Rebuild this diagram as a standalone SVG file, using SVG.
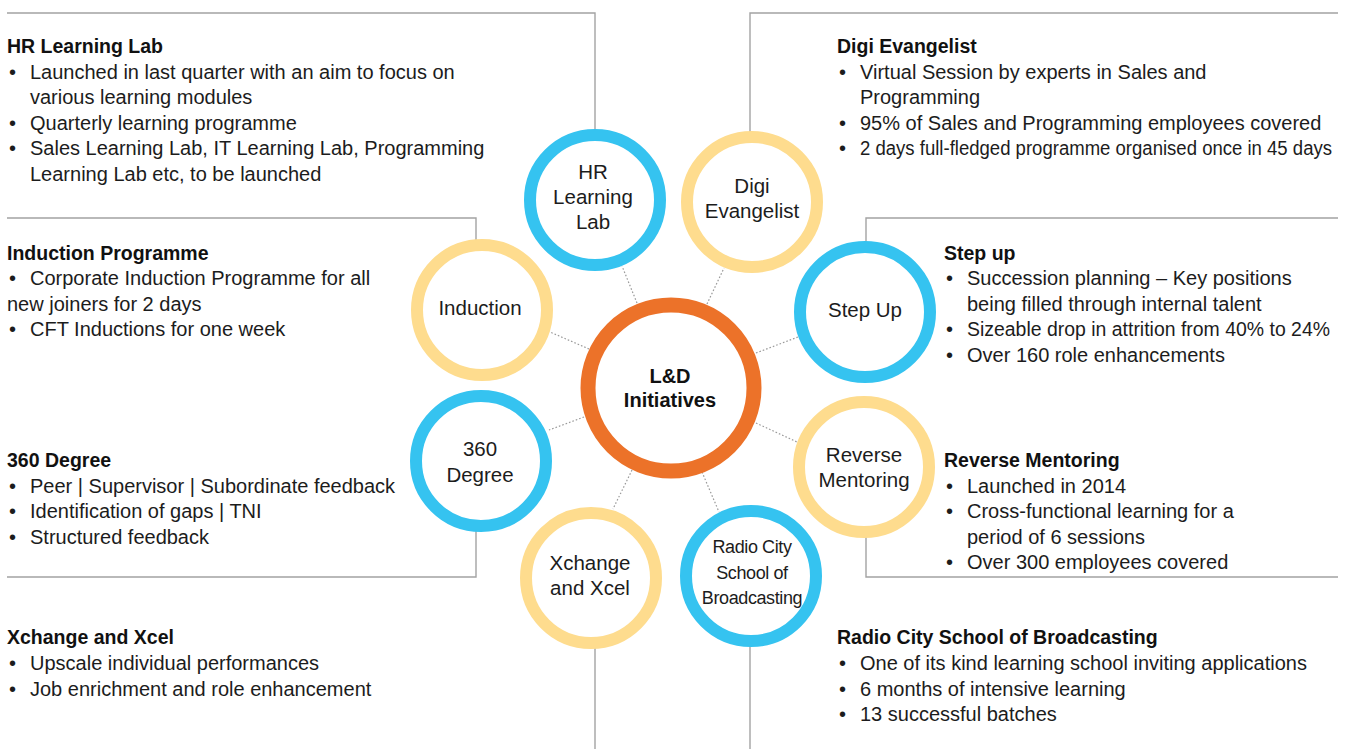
<svg xmlns="http://www.w3.org/2000/svg" width="1353" height="749" viewBox="0 0 1353 749">
<style>
.bg{fill:#ffffff}
.frame{fill:none;stroke:#a3a3a3;stroke-width:1.4}
.dot{fill:none;stroke:#9a9a9a;stroke-width:1.2;stroke-dasharray:1.6 2}
.blue{fill:#ffffff;stroke:#35c3f0;stroke-width:12}
.yellow{fill:#ffffff;stroke:#fedc8e;stroke-width:12}
.orange{fill:#ffffff;stroke:#ec7229;stroke-width:15}
.t{font-family:"Liberation Sans",Arial,sans-serif;font-size:20px;fill:#1c1c1c}
.h{font-family:"Liberation Sans",Arial,sans-serif;font-size:19.5px;font-weight:bold;fill:#111}
.n{font-family:"Liberation Sans",Arial,sans-serif;font-size:20.5px;fill:#1c1c1c;text-anchor:middle}
.nc{font-family:"Liberation Sans",Arial,sans-serif;font-size:18px;fill:#1c1c1c;text-anchor:middle;letter-spacing:-0.4px}
.c{font-family:"Liberation Sans",Arial,sans-serif;font-size:20px;font-weight:bold;fill:#111;text-anchor:middle}
</style>
<rect class="bg" x="0" y="0" width="1353" height="749"/>

<g id="connectors">
  <polyline class="frame" points="7,13 595,13 595,200"/>
  <polyline class="frame" points="1338,13 750,13 750,202"/>
  <polyline class="frame" points="7,218 476,218 476,310"/>
  <polyline class="frame" points="1338,218 866,218 866,312"/>
  <polyline class="frame" points="7,577 476,577 476,461"/>
  <polyline class="frame" points="1338,577 866,577 866,467"/>
  <line class="frame" x1="595" y1="578" x2="595" y2="749"/>
  <line class="frame" x1="750" y1="576" x2="750" y2="749"/>
  <line class="dot" x1="637" y1="303" x2="622" y2="266"/>
  <line class="dot" x1="707" y1="304" x2="724" y2="268"/>
  <line class="dot" x1="589" y1="349" x2="550" y2="332"/>
  <line class="dot" x1="756" y1="353" x2="798" y2="337"/>
  <line class="dot" x1="584" y1="417" x2="549" y2="430"/>
  <line class="dot" x1="756" y1="423" x2="797" y2="442"/>
  <line class="dot" x1="632" y1="470" x2="613" y2="509"/>
  <line class="dot" x1="702" y1="472" x2="719" y2="512"/>
</g>

<g id="center">
  <circle class="orange" cx="671" cy="388" r="83"/>
  <text class="c" x="670" y="383">L&amp;D</text>
  <text class="c" x="670" y="407">Initiatives</text>
</g>

<g id="node-hr">
  <circle class="blue" cx="595" cy="200" r="65"/>
  <text class="n" x="593" y="179">HR</text>
  <text class="n" x="593" y="204">Learning</text>
  <text class="n" x="593" y="229">Lab</text>
</g>
<g id="node-digi">
  <circle class="yellow" cx="752" cy="202" r="65"/>
  <text class="n" x="752" y="193">Digi</text>
  <text class="n" x="752" y="218">Evangelist</text>
</g>
<g id="node-induction">
  <circle class="yellow" cx="482" cy="310" r="65"/>
  <text class="n" x="480" y="315">Induction</text>
</g>
<g id="node-stepup">
  <circle class="blue" cx="865" cy="312" r="65"/>
  <text class="n" x="865" y="317">Step Up</text>
</g>
<g id="node-360">
  <circle class="blue" cx="481" cy="461" r="65"/>
  <text class="n" x="480" y="456">360</text>
  <text class="n" x="480" y="482">Degree</text>
</g>
<g id="node-reverse">
  <circle class="yellow" cx="864" cy="467" r="65"/>
  <text class="n" x="864" y="462">Reverse</text>
  <text class="n" x="864" y="487">Mentoring</text>
</g>
<g id="node-xchange">
  <circle class="yellow" cx="591" cy="578" r="65"/>
  <text class="n" x="590" y="570">Xchange</text>
  <text class="n" x="590" y="595">and Xcel</text>
</g>
<g id="node-radio">
  <circle class="blue" cx="751" cy="576" r="65"/>
  <text class="nc" x="752" y="553">Radio City</text>
  <text class="nc" x="752" y="579">School of</text>
  <text class="nc" x="752" y="604">Broadcasting</text>
</g>

<g id="desc-hr">
  <text class="h" x="7" y="53">HR Learning Lab</text>
  <text class="t" x="9" y="79">•</text><text class="t" x="30" y="79">Launched in last quarter with an aim to focus on</text>
  <text class="t" x="30" y="104">various learning modules</text>
  <text class="t" x="9" y="130">•</text><text class="t" x="30" y="130">Quarterly learning programme</text>
  <text class="t" x="9" y="155">•</text><text class="t" x="30" y="155">Sales Learning Lab, IT Learning Lab, Programming</text>
  <text class="t" x="30" y="181">Learning Lab etc, to be launched</text>
</g>
<g id="desc-induction">
  <text class="h" x="7" y="260">Induction Programme</text>
  <text class="t" x="9" y="285">•</text><text class="t" x="30" y="285">Corporate Induction Programme for all</text>
  <text class="t" x="7" y="311">new joiners for 2 days</text>
  <text class="t" x="9" y="336">•</text><text class="t" x="30" y="336">CFT Inductions for one week</text>
</g>
<g id="desc-360">
  <text class="h" x="7" y="467">360 Degree</text>
  <text class="t" x="9" y="493">•</text><text class="t" x="30" y="493">Peer | Supervisor | Subordinate feedback</text>
  <text class="t" x="9" y="518">•</text><text class="t" x="30" y="518">Identification of gaps | TNI</text>
  <text class="t" x="9" y="544">•</text><text class="t" x="30" y="544">Structured feedback</text>
</g>
<g id="desc-xchange">
  <text class="h" x="7" y="644">Xchange and Xcel</text>
  <text class="t" x="9" y="670">•</text><text class="t" x="30" y="670">Upscale individual performances</text>
  <text class="t" x="9" y="696">•</text><text class="t" x="30" y="696">Job enrichment and role enhancement</text>
</g>
<g id="desc-digi">
  <text class="h" x="837" y="53">Digi Evangelist</text>
  <text class="t" x="839" y="79">•</text><text class="t" x="860" y="79">Virtual Session by experts in Sales and</text>
  <text class="t" x="860" y="104">Programming</text>
  <text class="t" x="839" y="130">•</text><text class="t" x="860" y="130">95% of Sales and Programming employees covered</text>
  <text class="t" x="839" y="155">•</text><text class="t" x="860" y="155" textLength="472" lengthAdjust="spacingAndGlyphs">2 days full-fledged programme organised once in 45 days</text>
</g>
<g id="desc-stepup">
  <text class="h" x="944" y="260">Step up</text>
  <text class="t" x="946" y="285">•</text><text class="t" x="967" y="285">Succession planning – Key positions</text>
  <text class="t" x="967" y="311">being filled through internal talent</text>
  <text class="t" x="946" y="336">•</text><text class="t" x="967" y="336" textLength="363" lengthAdjust="spacingAndGlyphs">Sizeable drop in attrition from 40% to 24%</text>
  <text class="t" x="946" y="362">•</text><text class="t" x="967" y="362">Over 160 role enhancements</text>
</g>
<g id="desc-reverse">
  <text class="h" x="944" y="467">Reverse Mentoring</text>
  <text class="t" x="946" y="493">•</text><text class="t" x="967" y="493">Launched in 2014</text>
  <text class="t" x="946" y="518">•</text><text class="t" x="967" y="518">Cross-functional learning for a</text>
  <text class="t" x="967" y="544">period of 6 sessions</text>
  <text class="t" x="946" y="569">•</text><text class="t" x="967" y="569">Over 300 employees covered</text>
</g>
<g id="desc-radio">
  <text class="h" x="837" y="644">Radio City School of Broadcasting</text>
  <text class="t" x="839" y="670">•</text><text class="t" x="860" y="670">One of its kind learning school inviting applications</text>
  <text class="t" x="839" y="696">•</text><text class="t" x="860" y="696">6 months of intensive learning</text>
  <text class="t" x="839" y="721">•</text><text class="t" x="860" y="721">13 successful batches</text>
</g>
</svg>
